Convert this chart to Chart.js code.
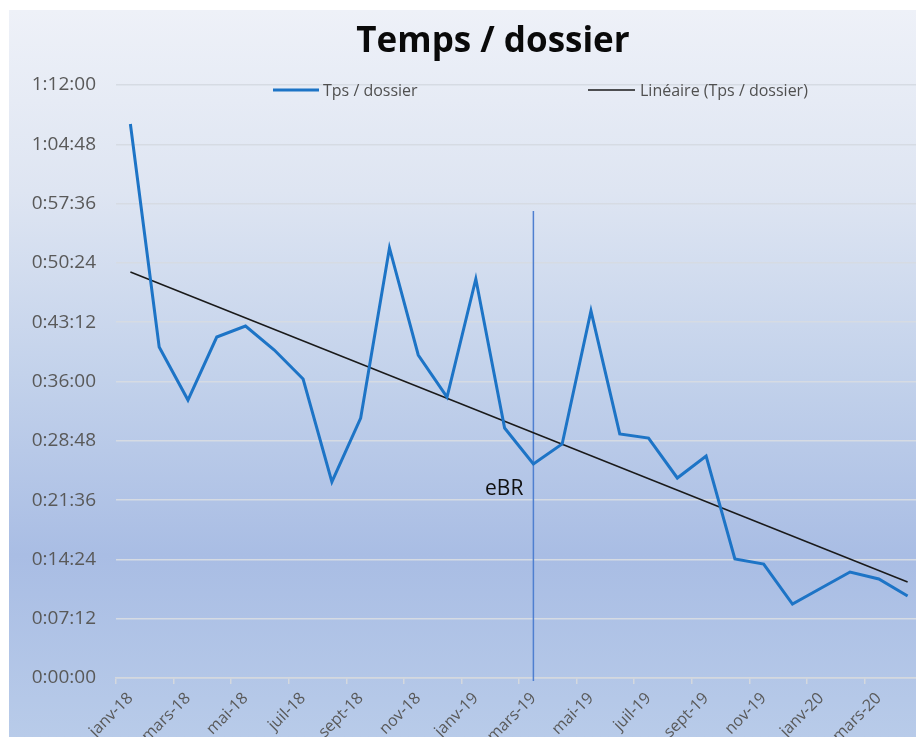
<!DOCTYPE html>
<html><head><meta charset="utf-8">
<script src="https://cdn.jsdelivr.net/npm/chart.js@4.4.1/dist/chart.umd.min.js"></script>
<style>
html,body{margin:0;padding:0;overflow:hidden;background:#fff;width:916px;height:737px}
#wrap{position:absolute;left:0;top:0;width:930px;height:737px}
</style></head><body><div id="wrap"><canvas id="c" width="930" height="737"></canvas></div>
<script>
// ---- data ----
const categories = ['janv-18','févr-18','mars-18','avr-18','mai-18','juin-18','juil-18','août-18','sept-18','oct-18','nov-18','déc-18',
  'janv-19','févr-19','mars-19','avr-19','mai-19','juin-19','juil-19','août-19','sept-19','oct-19','nov-19','déc-19',
  'janv-20','févr-20','mars-20','avr-20'];
// temps par dossier, en secondes
const tpsDossier = [4036,2411,2025,2484,2564,2389,2178,1428,1894,3133,2353,2047,
  2907,1821,1559,1705,2674,1778,1748,1457,1617,867,830,539,656,772,721,597];
// tendance linéaire : valeurs au premier et au dernier mois (secondes)
const trendEnds = [2958, 699];
const yMax = 4320;      // 1:12:00
const yStep = 432;      // 0:07:12
const ebrCategory = 'mars-19';
const ebrLabel = 'eBR';
const ebrTop = 3402;    // haut du trait vertical (secondes)
const titleText = 'Temps / dossier';
const seriesLabels = ['Tps / dossier', 'Linéaire (Tps / dossier)'];

const FONT = "'Open Sans', 'DejaVu Sans', sans-serif";

function fmt(s){
  s = Math.round(s);
  const h = Math.floor(s/3600), m = Math.floor((s%3600)/60), sec = s%60;
  return h + ':' + String(m).padStart(2,'0') + ':' + String(sec).padStart(2,'0');
}

const last = categories.length - 1;
const trendData = categories.map((c,i)=> i===0 ? trendEnds[0] : (i===last ? trendEnds[1] : null));

const bgPlugin = {
  id:'bg',
  beforeDraw(chart){
    const ctx = chart.ctx, W = chart.width, H = chart.height;
    ctx.save();
    ctx.fillStyle = '#ffffff';
    ctx.fillRect(0,0,W,H);
    const g = ctx.createLinearGradient(0,10,0,H);
    g.addColorStop(0,'#eef1f8');
    g.addColorStop(0.25,'#dee5f2');
    g.addColorStop(0.5,'#c3d2eb');
    g.addColorStop(0.75,'#a9bde4');
    g.addColorStop(1,'#b8cbe9');
    ctx.fillStyle = g;
    ctx.fillRect(9,10,W-9,H-10);
    ctx.restore();
  }
};

const overlayPlugin = {
  id:'overlay',
  beforeDatasetsDraw(chart){
    const ctx = chart.ctx, xs = chart.scales.x, ys = chart.scales.y;
    const x = xs.getPixelForValue(categories.indexOf(ebrCategory));
    ctx.save();
    ctx.strokeStyle = '#4f7fd0';
    ctx.lineWidth = 1.5;
    ctx.beginPath();
    ctx.moveTo(x, ys.getPixelForValue(ebrTop));
    ctx.lineTo(x, ys.getPixelForValue(0) + 3);
    ctx.stroke();
    ctx.fillStyle = '#111111';
    ctx.font = '21px ' + FONT;
    ctx.textAlign = 'right';
    ctx.textBaseline = 'middle';
    ctx.fillText(ebrLabel, x - 10, 489);
    ctx.restore();
  },
  afterDraw(chart){
    const ctx = chart.ctx;
    ctx.save();
    // title
    ctx.fillStyle = '#0a0a0a';
    ctx.font = 'bold 35px ' + FONT;
    ctx.textAlign = 'center';
    ctx.textBaseline = 'middle';
    ctx.fillText(titleText, 493, 42);
    // legend
    const ds = chart.data.datasets;
    const items = [{x0:273,x1:319,tx:323},{x0:588,x1:635,tx:640}];
    ctx.font = '16px ' + FONT;
    ctx.textAlign = 'left';
    items.forEach((it,i)=>{
      ctx.strokeStyle = ds[i].borderColor;
      ctx.lineWidth = ds[i].borderWidth;
      ctx.beginPath(); ctx.moveTo(it.x0,90); ctx.lineTo(it.x1,90); ctx.stroke();
      ctx.fillStyle = '#505050';
      ctx.fillText(ds[i].label, it.tx, 91);
    });
    ctx.restore();
  }
};

new Chart(document.getElementById('c'), {
  type:'line',
  data:{
    labels: categories,
    datasets:[
      {label: seriesLabels[0], data: tpsDossier, borderColor:'#1d74c6', borderWidth:3, pointRadius:0, tension:0, fill:false},
      {label: seriesLabels[1], data: trendData, borderColor:'#1a1a1a', borderWidth:1.5, pointRadius:0, tension:0, spanGaps:true, fill:false}
    ]
  },
  options:{
    responsive:false,
    animation:false,
    layout:{padding:{left:9, right:8, top:85, bottom:0}},
    plugins:{legend:{display:false}, title:{display:false}, tooltip:{enabled:false}},
    scales:{
      x:{
        offset:true,
        grid:{offset:true, drawOnChartArea:false, drawTicks:true, tickLength:6,
              color:(c)=> (c.index % 2 === 0 ? '#d4d8de' : 'rgba(0,0,0,0)'), lineWidth:1.5},
        border:{display:true, color:'#d4d8de', width:1.5},
        ticks:{autoSkip:false, maxRotation:45, minRotation:45, padding:5,
               color:'#595959', font:{family:FONT, size:16},
               callback:function(v,i){ return i % 2 === 0 ? this.getLabelForValue(v) : ''; }},
        afterFit(scale){ scale.height = 59; }
      },
      y:{
        min:0, max:yMax,
        grid:{color:'#d6dbe3', lineWidth:1.5, drawTicks:false},
        border:{display:false},
        ticks:{stepSize:yStep, padding:20, color:'#595959', font:{family:FONT, size:19},
               callback:(v)=>fmt(v)},
        afterFit(scale){ scale.width = 107; }
      }
    }
  },
  plugins:[bgPlugin, overlayPlugin]
});
</script></body></html>
